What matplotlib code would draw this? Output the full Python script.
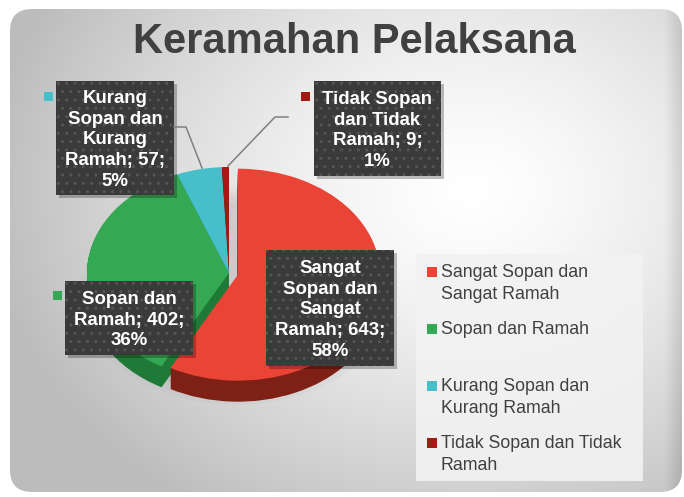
import numpy as np
import matplotlib
matplotlib.use("Agg")
import matplotlib.pyplot as plt
from matplotlib.patches import FancyBboxPatch, Rectangle, Ellipse

plt.rcParams["font.family"] = ["Liberation Sans", "DejaVu Sans"]

# data
categories = ["Sangat Sopan dan Sangat Ramah", "Sopan dan Ramah",
              "Kurang Sopan dan Kurang Ramah", "Tidak Sopan dan Tidak Ramah"]
values = [643, 402, 57, 9]
label_names = ["Sangat\nSopan dan\nSangat\nRamah", "Sopan dan\nRamah",
               "Kurang\nSopan dan\nKurang\nRamah", "Tidak Sopan\ndan Tidak\nRamah"]
legend_names = ["Sangat Sopan dan\nSangat Ramah", "Sopan dan Ramah",
                "Kurang Sopan dan\nKurang Ramah", "Tidak Sopan dan Tidak\nRamah"]
title = "Keramahan Pelaksana"

face_colors = ["#ea4436", "#35a853", "#47bfca", "#a01b12"]
side_colors = ["#7e2016", "#1f7a37", "#2e8f99", "#5c0f0a"]
explode = [0.065, 0, 0, 0]

W, H = 684, 497
fig = plt.figure(figsize=(W / 100, H / 100), dpi=100)
fig.patch.set_facecolor("white")

# background with gradient rounded panel
ax_bg = fig.add_axes([0, 0, 1, 1])
ax_bg.axis("off")
yy, xx = np.mgrid[0:H, 0:W]
dist = np.sqrt(((xx - 470) / 430.0) ** 2 + ((yy - 190) / 340.0) ** 2)
shade = np.clip(1.0 - 0.22 * dist ** 1.4, 0.74, 1.0)
edge = np.clip((xx - 664) / 20.0, 0, 1)
shade = shade - 0.12 * edge
img = np.dstack([shade, shade, shade])
panel = FancyBboxPatch((10, 9), W - 12, H - 14, boxstyle="round,pad=0,rounding_size=22",
                       facecolor="none", edgecolor="none", transform=ax_bg.transData)
ax_bg.add_patch(panel)
im = ax_bg.imshow(img, extent=(0, W, H, 0), aspect="auto", zorder=1)
im.set_clip_path(panel)
ax_bg.set_xlim(0, W)
ax_bg.set_ylim(H, 0)

# pie axes: unit circle -> rx=142 px, ry=106 px, centre at (229, 273)
cx, cy, rx, ry = 229, 273, 142, 106
xl, yl = 1.2, 1.5
pw, ph = 2 * xl * rx, 2 * yl * ry
ax_pie = fig.add_axes([(cx - pw / 2) / W, (H - cy - ph / 2) / H, pw / W, ph / H])
ax_pie.patch.set_alpha(0)

depth = 21 / ry
for k in range(5):
    ax_pie.add_patch(Ellipse((0.05, -depth - 0.02), 2.2 - 0.07 * k, 2.05 - 0.07 * k,
                             facecolor="#808080", alpha=0.05, lw=0))
for d in np.linspace(depth, 0, 24, endpoint=False):
    ax_pie.pie(values, colors=side_colors, startangle=90, counterclock=False,
               explode=explode, center=(0, -d), radius=1, wedgeprops=dict(linewidth=0))
ax_pie.pie(values, colors=face_colors, startangle=90, counterclock=False,
           explode=explode, center=(0, 0), radius=1, wedgeprops=dict(linewidth=0))
ax_pie.set_aspect("auto")
ax_pie.set_xlim(-xl, xl)
ax_pie.set_ylim(-yl, yl)
ax_pie.axis("off")

# overlay for title, labels, legend
ax = fig.add_axes([0, 0, 1, 1])
ax.patch.set_alpha(0)
ax.set_xlim(0, W)
ax.set_ylim(H, 0)
ax.axis("off")

ax.text(354, 42, title, ha="center", va="center", fontsize=30, fontweight="bold", color="#404040")

total = sum(values)
pcts = [round(v * 100 / total) for v in values]
labels = [f"{n}; {v};\n{p}%" for n, v, p in zip(label_names, values, pcts)]

# box: (left, top, right, bottom), marker (x, y)
boxes = [(266, 250, 394, 366), (65, 281, 193, 355), (56, 81, 174, 195), (314, 81, 441, 176)]
markers = [None, (53, 291), (44, 92), (301, 92)]

# leader lines
ax.plot([174, 186, 202], [127, 127, 168], color="#7f7f7f", lw=1.1)
ax.plot([288, 275, 228], [117, 117, 166], color="#7f7f7f", lw=1.1)

for i, (l, t, r, b) in enumerate(boxes):
    ax.add_patch(Rectangle((l + 3, t + 3), r - l, b - t, facecolor="#000000", alpha=0.25, lw=0))
    ax.add_patch(Rectangle((l, t), r - l, b - t, facecolor="#3a3a3a", lw=0))
    ax.add_patch(Rectangle((l, t), r - l, b - t, facecolor="none", edgecolor="#555555",
                           hatch="..", lw=0))
    ax.text((l + r) / 2, (t + b) / 2 + 2, labels[i], ha="center", va="center", color="white",
            fontsize=13.4, fontweight="bold", linespacing=1.28)
    if markers[i] is not None:
        mx, my = markers[i]
        ax.add_patch(Rectangle((mx, my), 9, 9, facecolor=face_colors[i], lw=0))

# legend
ax.add_patch(Rectangle((416, 254), 227, 227, facecolor="#f2f2f2", alpha=0.9, lw=0))
leg_y = [272, 329, 386, 443]
for i, name in enumerate(legend_names):
    ax.add_patch(Rectangle((427, leg_y[i] - 5), 10, 10, facecolor=face_colors[i], lw=0))
    ax.text(441, leg_y[i] - 8, name, ha="left", va="top", fontsize=12.8, color="#404040",
            linespacing=1.38)

fig.savefig("out.png", dpi=100)
